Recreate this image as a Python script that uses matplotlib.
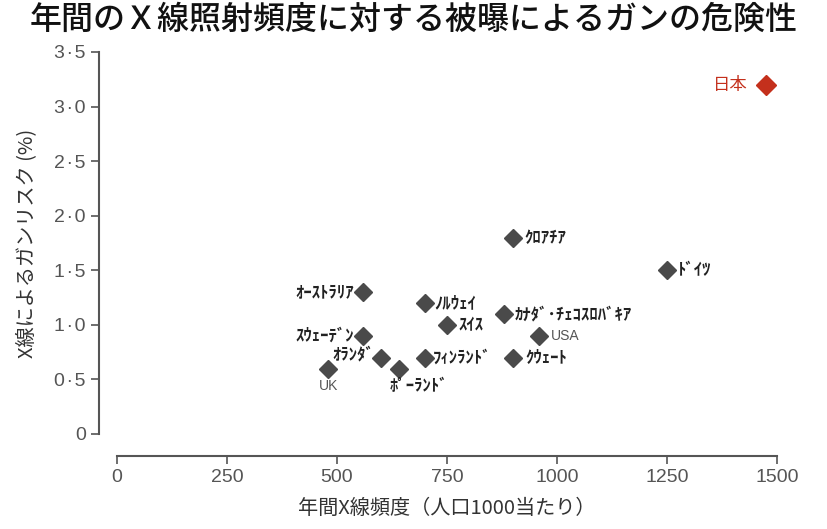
import matplotlib
matplotlib.use("Agg")
import matplotlib.pyplot as plt
from matplotlib.ticker import FuncFormatter

plt.rcParams['font.family'] = ['Noto Sans CJK JP', 'DejaVu Sans']

# data
countries = ["ｸﾛｱﾁｱ", "ﾄﾞｲﾂ", "ｵｰｽﾄﾗﾘｱ", "ﾉﾙｳｪｲ", "ｶﾅﾀﾞ･ﾁｪｺｽﾛﾊﾞｷｱ", "ｽｲｽ",
             "ｽｳｪｰﾃﾞﾝ", "USA", "ｵﾗﾝﾀﾞ", "ﾌｨﾝﾗﾝﾄﾞ", "ｸｳｪｰﾄ", "UK", "ﾎﾟｰﾗﾝﾄﾞ"]
xray_freq = [900, 1250, 560, 700, 880, 750, 560, 960, 600, 700, 900, 480, 640]
cancer_risk = [1.8, 1.5, 1.3, 1.2, 1.1, 1.0, 0.9, 0.9, 0.7, 0.7, 0.7, 0.6, 0.6]
japan_label = "日本"
japan_freq = 1475
japan_risk = 3.2

x_ticks = [0, 250, 500, 750, 1000, 1250, 1500]
y_ticks = [0, 0.5, 1.0, 1.5, 2.0, 2.5, 3.0, 3.5]

# label placement (pixel offset, alignment) per country
label_pos = {
    "ｸﾛｱﾁｱ": (11, 0, 'left', 'center'),
    "ﾄﾞｲﾂ": (11, 0, 'left', 'center'),
    "ｵｰｽﾄﾗﾘｱ": (-9, 0, 'right', 'center'),
    "ﾉﾙｳｪｲ": (9, 0, 'left', 'center'),
    "ｶﾅﾀﾞ･ﾁｪｺｽﾛﾊﾞｷｱ": (11, 0, 'left', 'center'),
    "ｽｲｽ": (12, 0, 'left', 'center'),
    "ｽｳｪｰﾃﾞﾝ": (-9, 0, 'right', 'center'),
    "USA": (11, 0, 'left', 'center'),
    "ｵﾗﾝﾀﾞ": (-7, 3, 'right', 'center'),
    "ﾌｨﾝﾗﾝﾄﾞ": (8, 0, 'left', 'center'),
    "ｸｳｪｰﾄ": (12, 0, 'left', 'center'),
    "UK": (0, -10, 'center', 'top'),
    "ﾎﾟｰﾗﾝﾄﾞ": (-9, -9, 'left', 'top'),
}

fig = plt.figure(figsize=(8.28, 5.29), dpi=100)
ax = fig.add_axes([117 / 828, 1 - 434 / 529, 660 / 828, 382 / 529])

ax.plot(xray_freq, cancer_risk, linestyle='none', marker='D', markersize=9,
        color='#4a4a4a', clip_on=False)
ax.plot([japan_freq], [japan_risk], linestyle='none', marker='D', markersize=10,
        color='#c4301c', clip_on=False)

for name, x, y in zip(countries, xray_freq, cancer_risk):
    dx, dy, ha, va = label_pos[name]
    if name in ("USA", "UK"):
        ax.annotate(name, (x, y), xytext=(dx, dy), textcoords='offset pixels',
                    ha=ha, va=va, fontsize=10, color='#555555',
                    family=['Liberation Sans', 'DejaVu Sans'])
    else:
        ax.annotate(name, (x, y), xytext=(dx, dy), textcoords='offset pixels',
                    ha=ha, va=va, fontsize=12, fontweight='bold', color='#222222')

ax.annotate(japan_label, (japan_freq, japan_risk), xytext=(-18, 0),
            textcoords='offset pixels', ha='right', va='center',
            fontsize=12.5, color='#c4301c')

ax.set_xlim(0, 1500)
ax.set_ylim(0, 3.5)
ax.set_xticks(x_ticks)
ax.set_yticks(y_ticks)
# decimal shown as a raised dot, as in the original print
ax.yaxis.set_major_formatter(FuncFormatter(
    lambda v, p: '0' if v == 0 else f"{v:.1f}".replace('.', '\u200a·\u200a')))

for side in ('top', 'right'):
    ax.spines[side].set_visible(False)
ax.spines['left'].set_position(('outward', 13))
ax.spines['bottom'].set_position(('outward', 16))
for side in ('left', 'bottom'):
    ax.spines[side].set_color('#555555')
    ax.spines[side].set_linewidth(1.5)
ax.tick_params(axis='both', colors='#555555', length=6, width=1.2,
               labelsize=14, labelcolor='#555555')
for lbl in ax.get_xticklabels() + ax.get_yticklabels():
    lbl.set_family(['Liberation Sans', 'DejaVu Sans'])

ax.set_xlabel("年間X線頻度（人口1000当たり）", fontsize=14.5, color='#333333', labelpad=8)
ax.set_ylabel("X線によるガンリスク (%)", fontsize=14.5, color='#333333', labelpad=12)

fig.text(0.5, 0.962, "年間のＸ線照射頻度に対する被曝によるガンの危険性",
         ha='center', va='center', fontsize=23, fontweight='medium', color='#111111')

fig.savefig("out.png", dpi=100)
